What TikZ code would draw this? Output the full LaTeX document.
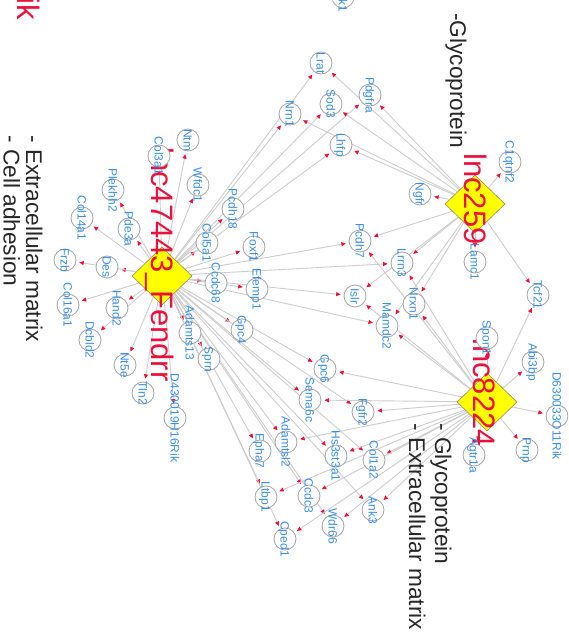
\documentclass[tikz,border=0pt]{standalone}
\usepackage{fontspec}
\setmainfont{Liberation Sans}
\usetikzlibrary{shapes.geometric,arrows.meta}
\definecolor{hubred}{RGB}{236,16,58}
\definecolor{genblue}{RGB}{58,142,232}
\definecolor{edgegray}{RGB}{205,205,205}
\definecolor{ringgray}{RGB}{165,165,165}
\definecolor{hubyellow}{RGB}{255,255,0}
\pgfdeclarelayer{bglayer}
\pgfdeclarelayer{edgelayer}
\pgfdeclarelayer{hublayer}
\pgfsetlayers{bglayer,edgelayer,hublayer,main}
% gene node: ring plus rotated label
\newcommand\genenode[4]{%
  \node[gene] (#1) at (#2,#3) {};
  \node[genetext] at ([xshift=-4.3pt]#1.center) {#4};}
\begin{document}
\begin{tikzpicture}[x=1pt,y=-1pt,
  hub/.style={diamond, fill=hubyellow, draw=gray!70!olive, line width=0.6pt,
    minimum width=60pt, minimum height=58pt, inner sep=0pt},
  gene/.style={circle, draw=ringgray, fill=white, line width=0.8pt,
    minimum size=22pt, inner sep=0pt},
  genetext/.style={rotate=-90, anchor=base, inner sep=0pt, text=genblue,
    font=\fontsize{12}{12}\selectfont},
  hubtext/.style={rotate=-90, anchor=base west, inner sep=0pt, text=hubred,
    font=\fontsize{31}{31}\selectfont},
  note/.style={rotate=-90, anchor=base west, inner sep=0pt, text=black!85,
    font=\fontsize{22.7}{26}\selectfont},
  edge/.style={draw=edgegray, line width=0.9pt, shorten >=3pt,
    -{Triangle[length=4.5pt,width=4pt,color=hubred]}}
]
\begin{pgfonlayer}{bglayer}
\fill[white] (0,0) rectangle (568,632);
\end{pgfonlayer}
\clip (0,0) rectangle (568,632);

% hubs and their names
\begin{pgfonlayer}{hublayer}
\node[hub] (F) at (162,276) {};
\node[hub] (A) at (475,204) {};
\node[hub] (B) at (487,402) {};
\node[hubtext] (tF) at (151,147) {lnc47443\_Fendrr};
\node[hubtext] (tA) at (464,153) {lnc259};
\node[hubtext] (tB) at (473,338) {lnc8224};
\node[hubtext, anchor=base east] (tX) at (17,20) {ik};
\end{pgfonlayer}

% target genes
\genenode{Ntm}{188}{140}{Ntm}
\genenode{Colxiiia}{159}{156}{Col3a1}
\genenode{Wfdc}{198}{185}{Wfdc1}
\genenode{Plekhh}{113}{190}{Plekhh2}
\genenode{Pdea}{129}{229}{Pde3a}
\genenode{Colxiva}{82}{218}{Col14a1}
\genenode{Des}{107}{267}{Des}
\genenode{Frzb}{65}{260}{Frzb}
\genenode{Colxvia}{68}{305}{Col16a1}
\genenode{Hand}{117}{308}{Hand2}
\genenode{Dcbld}{90}{340}{Dcbld2}
\genenode{Ntve}{125}{365}{Nt5e}
\genenode{Tln}{143}{393}{Tln2}
\genenode{Dfour}{175}{418}{D430019H16Rik}
\genenode{Adamts}{190}{333}{Adamts13}
\genenode{Sprn}{209}{359}{Sprn}
\genenode{Gpcfour}{242}{330}{Gpc4}
\genenode{Ccdcsixeight}{216}{283}{Ccdc68}
\genenode{Efemp}{257}{289}{Efemp1}
\genenode{Foxf}{254}{247}{Foxf1}
\genenode{Colva}{207}{243}{Col5a1}
\genenode{Pcdheighteen}{233}{209}{Pcdh18}
\genenode{Nrn}{290}{114}{Nrn1}
\genenode{Lrat}{321}{63}{Lrat}
\genenode{Sod}{331}{104}{Sod3}
\genenode{Pdgfra}{370}{95}{Pdgfra}
\genenode{Lhfp}{341}{145}{Lhfp}
\genenode{Pcdhseven}{360}{241}{Pcdh7}
\genenode{Islr}{355}{296}{Islr}
\genenode{Lrrn}{402}{263}{Lrrn3}
\genenode{Nrxn}{414}{304}{Nrxn1}
\genenode{Mamdc}{387}{326}{Mamdc2}
\genenode{Ngfr}{420}{194}{Ngfr}
\genenode{Conetnf}{510}{162}{C1qtnf2}
\genenode{Lamc}{475}{262}{Lamc1}
\genenode{Tcf}{538}{295}{Tcf21}
\genenode{Spon}{487}{338}{Spon1}
\genenode{Abibp}{533}{362}{Abi3bp}
\genenode{Dsix}{557}{416}{D630033O11Rik}
\genenode{Prnp}{527}{450}{Prnp}
\genenode{Agtr}{474}{455}{Agtr1a}
\genenode{Gpcsix}{325}{369}{Gpc6}
\genenode{Semac}{310}{400}{Sema6c}
\genenode{Fgfr}{363}{412}{Fgfr2}
\genenode{Adamtsl}{286}{442}{Adamtsl2}
\genenode{Epha}{260}{451}{Epha7}
\genenode{Hsst}{336}{456}{Hs3st3a1}
\genenode{Colia}{374}{460}{Col1a2}
\genenode{Ltbp}{266}{497}{Ltbp1}
\genenode{Ccdcthree}{309}{496}{Ccdc3}
\genenode{Ank}{373}{510}{Ank3}
\genenode{Wdr}{333}{526}{Wdr66}
\genenode{Cped}{285}{539}{Cped1}
\node[gene] (Kone) at (343,-3) {};
\node[genetext, anchor=base east] (tKone) at (338.7,12) {k1};

% regulatory edges
\begin{pgfonlayer}{edgelayer}
\foreach \t in {Ntm,Colxiiia,Wfdc,Plekhh,Pdea,Colxiva,Des,Frzb,Colxvia,Hand,
  Dcbld,Ntve,Tln,Dfour,Adamts,Sprn,Gpcfour,Ccdcsixeight,Efemp,Foxf,Colva,
  Pcdheighteen,Nrn,Lrat,Sod,Pdgfra,Lhfp,Pcdhseven,Islr,Lrrn,Mamdc,Gpcsix,
  Semac,Fgfr,Adamtsl,Epha,Hsst,Colia,Ltbp,Ccdcthree,Ank,Wdr,Cped}
  \draw[edge] (F) -- (\t);
\foreach \t in {Lrat,Pdgfra,Sod,Nrn,Lhfp,Ngfr,Conetnf,Lamc,Tcf,Pcdhseven,
  Lrrn,Nrxn,Mamdc,Islr}
  \draw[edge] (A) -- (\t);
\foreach \t in {Tcf,Spon,Abibp,Dsix,Prnp,Agtr,Pcdhseven,Lrrn,Nrxn,Mamdc,Islr,
  Gpcsix,Semac,Fgfr,Adamtsl,Hsst,Colia,Ank,Wdr,Ccdcthree,Ltbp,Cped}
  \draw[edge] (B) -- (\t);
\end{pgfonlayer}

% functional annotations
\node[note] (nA) at (450,13) {-Glycoprotein};
\node[note] (nB1) at (435,423) {- Glycoprotein};
\node[note] (nB2) at (409,423) {- Extracellular matrix};
\node[note] (nF1) at (26,135) {- Extracellular matrix};
\node[note] (nF2) at (3.5,135) {- Cell adhesion};
\end{tikzpicture}
\end{document}
